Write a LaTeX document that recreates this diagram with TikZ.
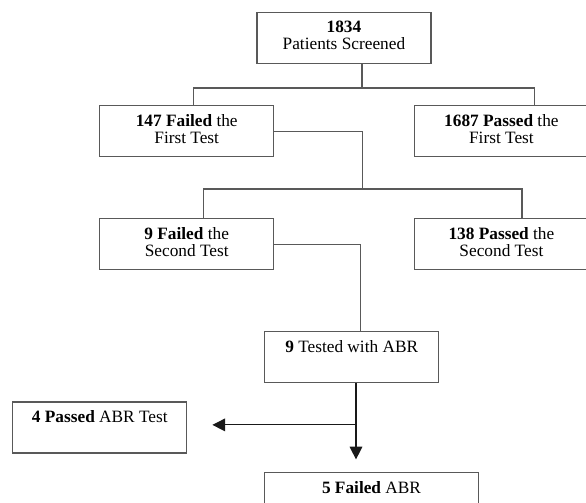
\documentclass[tikz,border=0pt]{standalone}
\usepackage{fontspec}
\setmainfont{Liberation Serif}
\usetikzlibrary{positioning,arrows.meta}

\begin{document}
\begin{tikzpicture}[x=1pt,y=1pt,on grid,
    box/.style={rectangle,draw=black!65,line width=1.2pt,minimum width=174pt,
      minimum height=51pt,inner sep=0pt,align=center,
      font=\fontsize{17.3pt}{16.7pt}\selectfont,
      execute at end node={\rule[-5pt]{0pt}{0pt}}},
    link/.style={draw=black!65,line width=1.2pt},
    arr/.style={draw=black!90,line width=1.1pt,-{Triangle[length=12.7pt,width=12.7pt]}}]
    \useasboundingbox (0,0) rectangle (586,503);
    \clip (0,0) rectangle (586,503);
    \node[box] (n_1834)                                        at (343.9,465) {\textbf{1834}\\Patients Screened};
    \node[box] (f_147)  [below left=93.4pt and 157.2pt of n_1834]  {\textbf{147 Failed} the\\First Test};
    \node[box] (p_1687) [right=314.7pt of f_147]                   {\textbf{1687 Passed} the\\First Test};
    \node[box] (f_9)    [below=112.8pt of f_147]                   {\textbf{9 Failed} the\\Second Test};
    \node[box] (p_138)  [below=112.8pt of p_1687]                  {\textbf{138 Passed} the\\Second Test};
    \node[box] (t_abr)  [below right=113pt and 165pt of f_9]       {\textbf{9} Tested with ABR\\~};
    \node[box] (p_abr)  [below left=70.3pt and 251.9pt of t_abr]   {\textbf{4 Passed} ABR Test\\~};
    \node[box,minimum width=214pt] (f_abr) [below right=141pt and 19.8pt of t_abr] {\textbf{5 Failed} ABR\\~};
    \coordinate (j_1) at ([xshift=18pt,yshift=-24pt]n_1834.south);
    \coordinate (j_2) at (362.5,314);
    \coordinate (j_3) at ([xshift=4.3pt,yshift=-41.6pt]t_abr.south);
    \coordinate (t_1) at ([xshift=25pt]p_abr.east);
    \draw[link] ([xshift=18pt]n_1834.south) -- (j_1);
    \draw[link] ([xshift=6.6pt]f_147.north) |- (j_1) -| ([xshift=33.3pt]p_1687.north);
    \draw[link] (f_147.east) -| (j_2);
    \draw[link] ([xshift=16.6pt]f_9.north) |- (j_2) -| ([xshift=20.6pt]p_138.north);
    \draw[link] (f_9.east) -| ([xshift=8.5pt]t_abr.north);
    \draw[arr] ([xshift=4.3pt]t_abr.south) -- ([xshift=-15.5pt,yshift=12.7pt]f_abr.north);
    \draw[arr] (j_3) -- (t_1 |- j_3);
  \end{tikzpicture}
\end{document}
